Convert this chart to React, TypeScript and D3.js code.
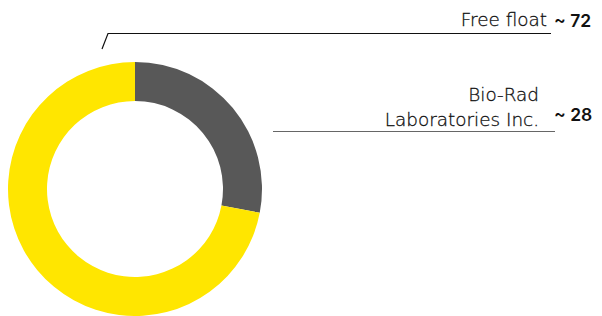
import { useRef, useEffect } from "react";
import * as d3 from "d3";

const labels = ["Bio-Rad\nLaboratories Inc.", "Free float"];
const values = [28, 72];
const valueTexts = ["~ 28", "~ 72"];
const colors = ["#585858", "#FFE600"];

export default function App() {
  const ref = useRef<SVGSVGElement>(null);

  useEffect(() => {
    const svg = d3.select(ref.current);
    svg.selectAll("*").remove();

    const cx = 135;
    const cy = 189;
    const outer = 127;
    const inner = 88;

    const pie = d3.pie<number>().sort(null).value((d) => d);
    const arc = d3.arc<d3.PieArcDatum<number>>().innerRadius(inner).outerRadius(outer);

    const g = svg.append("g").attr("transform", `translate(${cx},${cy})`);
    g.selectAll("path")
      .data(pie(values))
      .join("path")
      .attr("d", arc)
      .attr("fill", (_, i) => colors[i]);

    // leader lines: start, elbow, end x; label right edge and baseline
    const leaders = [
      { pts: [273, 131.5, 273, 131.5, 555], color: "#666", textEnd: 539, baseline: 126, valueY: 121 },
      { pts: [102, 49, 108, 33.5, 551], color: "#111", textEnd: 547, baseline: 26, valueY: 26.5 },
    ];

    leaders.forEach((l, i) => {
      const [x0, y0, x1, y1, x2] = l.pts;
      svg.append("path")
        .attr("d", `M${x0},${y0}L${x1},${y1}L${x2},${y1}`)
        .attr("fill", "none")
        .attr("stroke", l.color)
        .attr("stroke-width", 1.2);

      const lines = labels[i].split("\n");
      lines.forEach((t, j) => {
        svg.append("text")
          .attr("x", l.textEnd)
          .attr("y", l.baseline - (lines.length - 1 - j) * 25)
          .attr("text-anchor", "end")
          .attr("font-family", "'DejaVu Sans'")
          .attr("font-weight", 300)
          .attr("font-size", 18.4)
          .attr("fill", "#111")
          .attr("stroke", "#111")
          .attr("stroke-width", 0.3)
          .text(t);
      });

      svg.append("text")
        .attr("x", 554)
        .attr("y", l.valueY)
        .attr("font-family", "Inter")
        .attr("font-weight", 600)
        .attr("font-size", 17.5)
        .attr("fill", "#111")
        .text(valueTexts[i]);
    });
  }, []);

  return (
    <svg
      ref={ref}
      width={602}
      height={316}
      style={{ position: "absolute", left: 0, top: 0 }}
    />
  );
}
